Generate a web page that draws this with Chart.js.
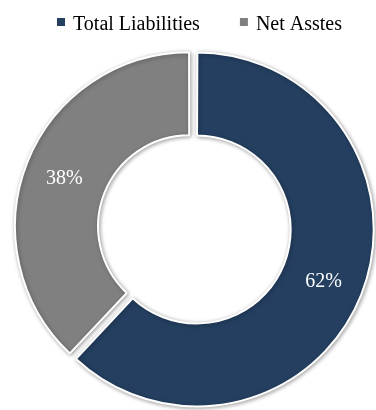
<!DOCTYPE html>
<html>
<head>
<meta charset="utf-8">
<script src="https://cdn.jsdelivr.net/npm/chart.js@4"></script>
<style>
  html, body { margin: 0; padding: 0; background: #fff; }
  #wrap { width: 376px; height: 410px; }
</style>
</head>
<body>
<div id="wrap"><canvas id="donut"></canvas></div>
<script>
const categories = ['Total Liabilities', 'Net Asstes'];
const shares = [62, 38];
const colors = ['#243F60', '#808080'];

const serif = '"Liberation Serif", "DejaVu Serif", serif';

// legend across the top, drawn by hand so the item gap can be wide
const topLegend = {
  id: 'topLegend',
  afterDraw(chart) {
    const ctx = chart.ctx;
    ctx.save();
    ctx.font = '20px ' + serif;
    ctx.textBaseline = 'alphabetic';
    const box = 8, gapText = 8, gapItem = 40;
    let x = 57;
    const baseline = 30;
    categories.forEach((c, i) => {
      ctx.fillStyle = colors[i];
      ctx.fillRect(x, baseline - 12, box, box);
      ctx.fillStyle = '#000';
      ctx.fillText(c, x + box + gapText, baseline);
      x += box + gapText + ctx.measureText(c).width + gapItem;
    });
    ctx.restore();
  }
};

// draws the % text inside each slice
const sliceLabels = {
  id: 'sliceLabels',
  afterDatasetsDraw(chart) {
    const ctx = chart.ctx;
    const meta = chart.getDatasetMeta(0);
    ctx.save();
    ctx.fillStyle = '#fff';
    ctx.font = '20px ' + serif;
    ctx.textAlign = 'center';
    ctx.textBaseline = 'middle';
    meta.data.forEach((arc, i) => {
      const p = arc.tooltipPosition();
      ctx.fillText(shares[i] + '%', p.x + 1, p.y + 2);
    });
    ctx.restore();
  }
};

// soft shadow under the ring
const ringShadow = {
  id: 'ringShadow',
  beforeDatasetDraw(chart) {
    const ctx = chart.ctx;
    ctx.save();
    ctx.shadowColor = 'rgba(0,0,0,0.35)';
    ctx.shadowBlur = 4;
    ctx.shadowOffsetX = 1;
    ctx.shadowOffsetY = 1;
  },
  afterDatasetDraw(chart) {
    chart.ctx.restore();
  }
};

const ctx = document.getElementById('donut').getContext('2d');
const chart = new Chart(ctx, {
  type: 'doughnut',
  data: {
    labels: categories,
    datasets: [{
      data: shares,
      backgroundColor: colors,
      borderColor: '#fff',
      borderWidth: 2,
      offset: 16,
    }],
  },
  options: {
    responsive: true,
    maintainAspectRatio: false,
    animation: false,
    cutout: '52%',
    layout: {
      padding: { left: 10, top: 46, bottom: 0, right: 0 }
    },
    plugins: {
      legend: { display: false },
      tooltip: { enabled: false },
    },
  },
  plugins: [ringShadow, sliceLabels, topLegend],
});
</script>
</body>
</html>
